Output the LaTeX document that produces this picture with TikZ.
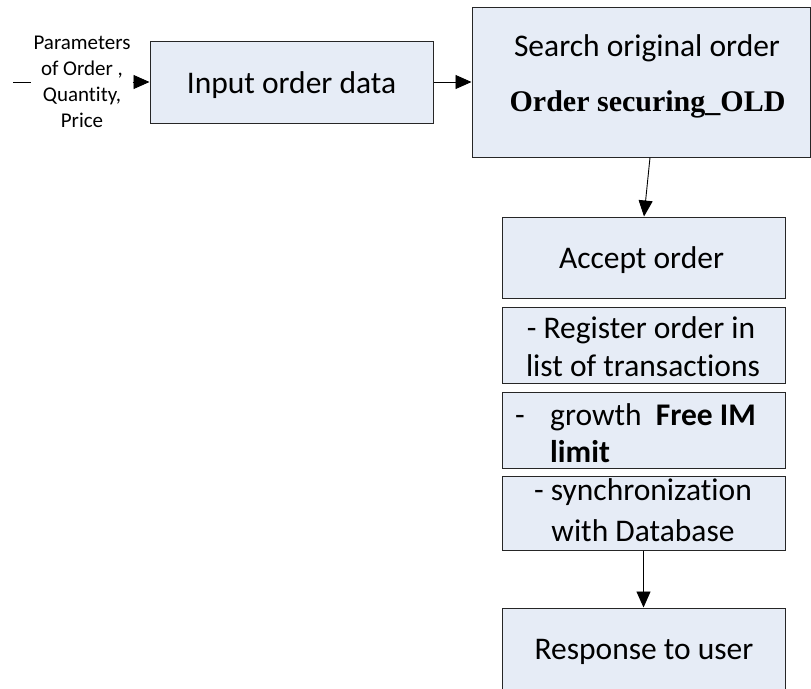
\documentclass[tikz,border=0pt]{standalone}
\usepackage{fontspec}
\setmainfont{Carlito}[Ligatures=NoCommon]
\newfontfamily\timesfont{Liberation Serif}
\usetikzlibrary{arrows.meta}
\definecolor{boxfill}{RGB}{230,236,246}
\tikzset{
  box/.style={draw=black!85, line width=1pt, fill=boxfill, inner sep=0pt},
  big/.style={font=\fontsize{31.5}{38}\selectfont, inner sep=0pt},
  small/.style={font=\fontsize{21}{26}\selectfont, align=center, inner sep=0pt},
  arr/.style={-{Triangle[length=16pt,width=14pt]}, line width=0.9pt},
  ln/.style={line width=0.9pt}
}
\begin{document}
\begin{tikzpicture}[x=1pt,y=-1pt]
\useasboundingbox (0,0) rectangle (811,688);
% boxes
\node[box, minimum width=283pt, minimum height=82pt] (inp) at (291.5,82) {};
\node[box, minimum width=338pt, minimum height=150pt] (srch) at (641,82) {};
\node[box, minimum width=283pt, minimum height=81pt] (acc) at (643.5,257.5) {};
\node[box, minimum width=283pt, minimum height=76pt] (reg) at (643.5,345) {};
\node[box, minimum width=283pt, minimum height=76pt] (grow) at (643.5,430) {};
\node[box, minimum width=283pt, minimum height=74pt] (sync) at (643.5,513) {};
\node[box, minimum width=283pt, minimum height=82pt] (resp) at (643.5,649) {};
% texts
\node[big, anchor=base] (tinp) at (291.5,93) {Input order data};
\node[big, anchor=base] (tsrch) at (647,56) {Search original order};
\node[anchor=base, inner sep=0pt, font=\timesfont\bfseries\fontsize{30}{36}\selectfont] (told) at (647.5,111) {Order securing\_OLD};
\node[big, anchor=base] (tacc) at (641.5,268) {Accept order};
\node[big, anchor=base] (treg1) at (641,338) {- Register order in};
\node[big, anchor=base] (treg2) at (643,376) {list of transactions};
\node[big, anchor=base west] (tdash) at (515,425) {-};
\node[big, anchor=base west] (tgrow) at (550,425) {growth\hspace{0.45em}\textbf{Free IM}};
\node[big, anchor=base west] (tlim) at (550,462) {\textbf{limit}};
\node[big, anchor=base] (tsync1) at (643,500) {- synchronization};
\node[big, anchor=base] (tsync2) at (643,541) {with Database};
\node[big, anchor=base] (tresp) at (644,659) {Response to user};
% input label and connectors
\coordinate (src) at (13,82);
\node[small, inner xsep=2pt] (params) at (82,82) {Parameters\\of Order ,\\Quantity,\\Price};
\draw[ln] (src) -- (src -| params.west);
\draw[arr] (params.east |- inp.west) -- (inp.west);
\draw[arr] (inp.east) -- (srch.west);
\draw[arr] ([xshift=9pt]srch.south) -- ([xshift=0.5pt]acc.north);
\draw[arr] (sync.south) -- (resp.north);
\end{tikzpicture}
\end{document}
